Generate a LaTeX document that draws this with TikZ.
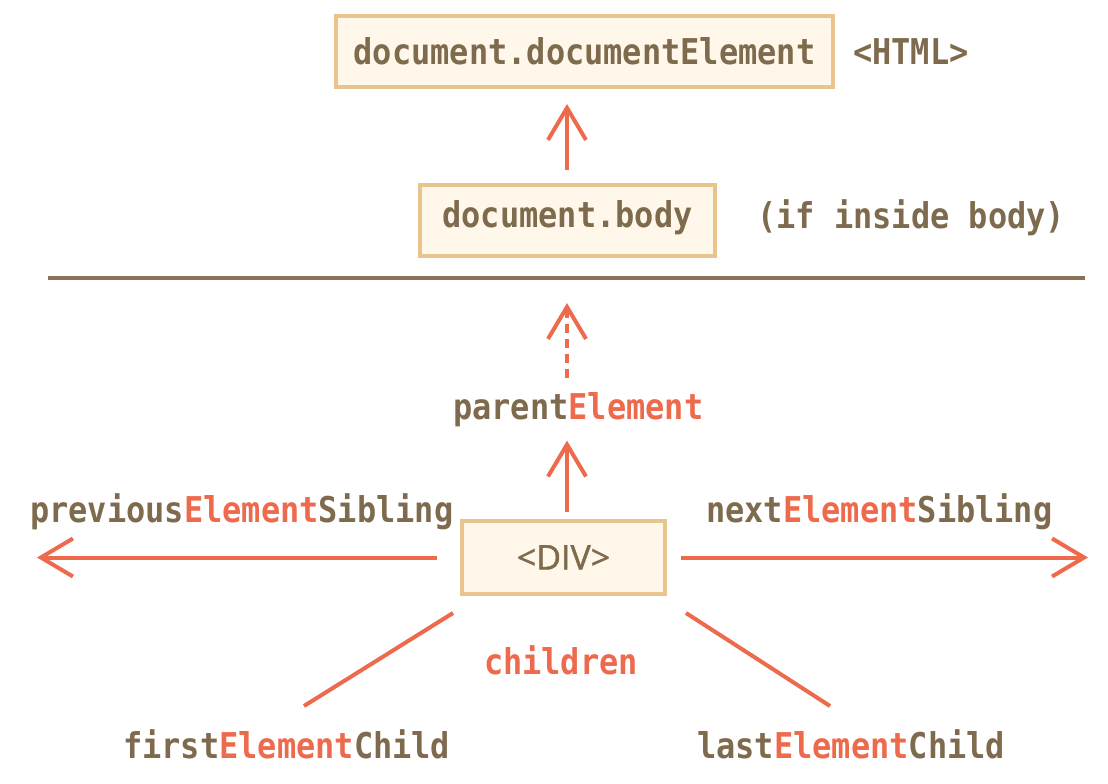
\documentclass[tikz,border=0pt]{standalone}
\usepackage{fontspec}
\setmonofont{DejaVu Sans Mono}[FakeStretch=0.9]
\newfontfamily\tagfont{Open Sans}[FakeBold=1.2]
\usetikzlibrary{arrows.meta}
\definecolor{txtbrown}{HTML}{7E6A4D}
\definecolor{accent}{HTML}{EE6A4C}
\definecolor{boxfill}{HTML}{FFF8EA}
\definecolor{boxline}{HTML}{E8C48F}
\definecolor{rulecol}{HTML}{8C7356}
\newcommand\hl[1]{\textcolor{accent}{#1}}
\tikzset{
  code/.style={font=\fontsize{35.5}{40}\selectfont\ttfamily\bfseries, text=txtbrown, inner sep=0pt},
  elbox/.style={draw=boxline, fill=boxfill, line width=4pt, inner sep=0pt},
  link/.style={draw=accent, line width=4pt},
  nav/.style={link, -{Straight Barb[length=32pt,width=38pt]}},
}
\begin{document}
\begin{tikzpicture}[x=1pt,y=-1pt]
  \fill[white] (0,0) rectangle (1108,784);
  \useasboundingbox (0,0) rectangle (1108,784);

  % vertical axis of the upward arrows
  \coordinate (spine) at (567,0);

  % document level boxes
  \node[elbox, code, minimum width=497pt, minimum height=71pt,
        text height=26pt, text depth=0pt] (root) at (584.5,51.5) {document.documentElement};
  \node[code, anchor=base west] (html) at (853,64) {<HTML>};
  \node[elbox, code, minimum width=295pt, minimum height=71pt,
        text height=26pt, text depth=12pt] (body) at (567.5,220.5) {document.body};
  \node[code, anchor=base west] (ifbody) at (757,228) {(if inside body)};
  \draw[nav, shorten <=13pt, shorten >=15pt] (body.north -| spine) -- (root.south -| spine);

  % separator
  \coordinate (ruleL) at (48,278);
  \coordinate (ruleR) at (1085,278);
  \draw[draw=rulecol, line width=4pt] (ruleL) -- (ruleR);

  % the element and its neighbours
  \node[elbox, font=\fontsize{34}{40}\selectfont\tagfont, text=txtbrown,
        minimum width=203pt, minimum height=73pt,
        text height=24pt, text depth=0pt] (div) at (563.5,557.5) {<DIV>};

  \node[code, anchor=base west] (parent) at (453,419) {parent\hl{Element}};
  \draw[nav, shorten <=7pt, shorten >=14pt] (div.north -| spine) -- (parent.south -| spine);
  \draw[nav, dash pattern=on 9pt off 6pt, shorten <=14pt, shorten >=25pt]
    (parent.north -| spine) -- (ruleL -| spine);

  \node[code, anchor=base west] (prev) at (30,522) {previous\hl{Element}Sibling};
  \node[code, anchor=base west] (next) at (706,522) {next\hl{Element}Sibling};
  \coordinate (leftEnd) at (37,557.5);
  \coordinate (rightEnd) at (1088,557.5);
  \draw[nav, shorten <=23pt] (div.west) -- (leftEnd);
  \draw[nav, shorten <=14pt] (div.east) -- (rightEnd);

  % children
  \node[code, text=accent, anchor=base] (children) at (561,674) {children};
  \node[code, anchor=base west] (first) at (123,758) {first\hl{Element}Child};
  \node[code, anchor=base west] (last) at (697,758) {last\hl{Element}Child};
  \coordinate (firstA) at (453,613);
  \coordinate (firstB) at (304,706);
  \coordinate (lastA) at (686,613);
  \coordinate (lastB) at (830,706);
  \draw[link] (firstA) -- (firstB);
  \draw[link] (lastA) -- (lastB);
\end{tikzpicture}
\end{document}
